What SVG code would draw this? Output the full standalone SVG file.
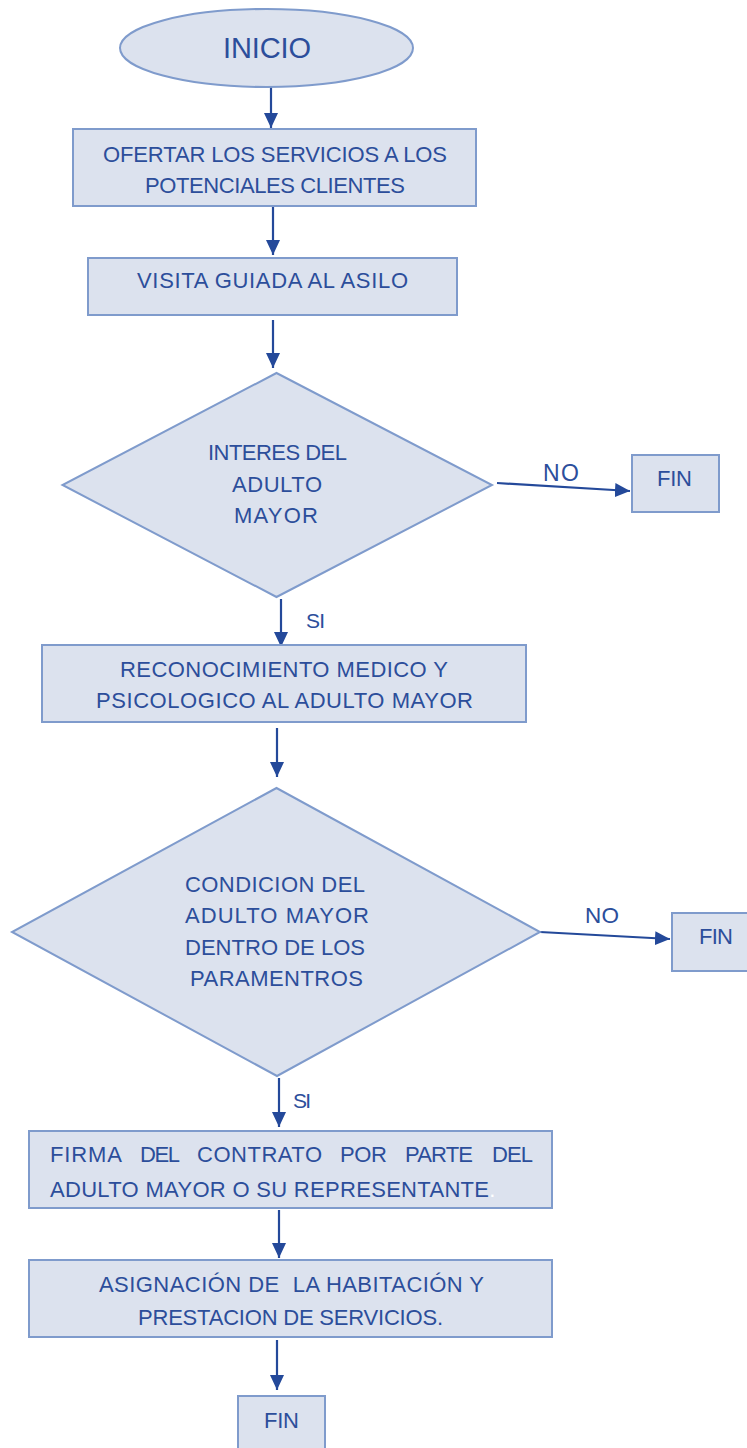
<svg xmlns="http://www.w3.org/2000/svg" width="747" height="1448" viewBox="0 0 747 1448">
<style>
.shape{fill:#dce2ee;stroke:#7f9bcc;stroke-width:2}
.t{font-family:"Liberation Sans",Arial,sans-serif;font-size:22px;fill:#2c4e9b}
.lbl{font-family:"Liberation Sans",Arial,sans-serif;font-size:21px;fill:#2c4e9b}
.conn{stroke:#24499a;stroke-width:2.2;fill:none;marker-end:url(#ah)}
</style>
<defs>
<marker id="ah" markerUnits="userSpaceOnUse" markerWidth="15" markerHeight="14" refX="15" refY="7" orient="auto">
<path d="M0,0 L15,7 L0,14 z" fill="#24499a"/>
</marker>
</defs>
<rect width="747" height="1448" fill="#ffffff"/>
<g id="connectors">
<line class="conn" x1="271" y1="82" x2="271" y2="128"/>
<line class="conn" x1="273" y1="207" x2="273" y2="255"/>
<line class="conn" x1="273" y1="320" x2="273" y2="368"/>
<line class="conn" x1="497" y1="483" x2="630" y2="491"/>
<line class="conn" x1="281" y1="599" x2="281" y2="647"/>
<line class="conn" x1="277" y1="728" x2="277" y2="777"/>
<line class="conn" x1="540" y1="932" x2="670" y2="939"/>
<line class="conn" x1="279" y1="1078" x2="279" y2="1127"/>
<line class="conn" x1="279" y1="1210" x2="279" y2="1258"/>
<line class="conn" x1="277" y1="1340" x2="277" y2="1390"/>
<text class="lbl" style="font-size:23px" x="543" y="481" textLength="36">NO</text>
<text class="lbl" x="306" y="628" textLength="19">SI</text>
<text class="lbl" style="font-size:22.5px" x="585" y="923" textLength="34">NO</text>
<text class="lbl" x="293" y="1108" textLength="18">SI</text>
</g>
<g id="inicio">
<ellipse class="shape" cx="266.5" cy="48" rx="146.5" ry="39"/>
<text class="t" style="font-size:29px" x="223" y="58" textLength="88">INICIO</text>
</g>
<g id="ofertar">
<rect class="shape" x="73" y="129" width="403" height="77"/>
<text class="t" x="103" y="162" textLength="344">OFERTAR LOS SERVICIOS A LOS</text>
<text class="t" x="145" y="193" textLength="260">POTENCIALES CLIENTES</text>
</g>
<g id="visita">
<rect class="shape" x="88" y="258" width="369" height="57"/>
<text class="t" x="137" y="288" textLength="271">VISITA GUIADA AL ASILO</text>
</g>
<g id="interes">
<polygon class="shape" points="276.5,373 492,485 276.5,597 62.5,485"/>
<text class="t" x="208" y="460" textLength="139">INTERES DEL</text>
<text class="t" x="232" y="492" textLength="90">ADULTO</text>
<text class="t" x="234" y="523" textLength="84">MAYOR</text>
</g>
<g id="fin1">
<rect class="shape" x="632" y="455" width="87" height="57"/>
<text class="t" x="657" y="486" textLength="35">FIN</text>
</g>
<g id="reconocimiento">
<rect class="shape" x="42" y="645" width="484" height="77"/>
<text class="t" x="120" y="677" textLength="328">RECONOCIMIENTO MEDICO Y</text>
<text class="t" x="96" y="708" textLength="377">PSICOLOGICO AL ADULTO MAYOR</text>
</g>
<g id="condicion">
<polygon class="shape" points="276.5,788 540,932 277,1076 12,932"/>
<text class="t" x="185" y="892" textLength="180">CONDICION DEL</text>
<text class="t" x="185" y="923" textLength="184">ADULTO MAYOR</text>
<text class="t" x="185" y="955" textLength="180">DENTRO DE LOS</text>
<text class="t" x="190" y="986" textLength="173">PARAMENTROS</text>
</g>
<g id="fin2">
<rect class="shape" x="672" y="913" width="80" height="58"/>
<text class="t" x="699" y="944" textLength="34">FIN</text>
</g>
<g id="firma">
<rect class="shape" x="29" y="1131" width="523" height="77"/>
<text class="t" y="1162"><tspan x="50" textLength="72">FIRMA</tspan><tspan x="140" textLength="40">DEL</tspan><tspan x="197" textLength="125">CONTRATO</tspan><tspan x="340" textLength="47">POR</tspan><tspan x="405" textLength="68">PARTE</tspan><tspan x="492" textLength="41">DEL</tspan></text>
<text class="t" y="1197"><tspan x="50" textLength="439">ADULTO MAYOR O SU REPRESENTANTE</tspan><tspan fill="#ffffff">.</tspan></text>
</g>
<g id="asignacion">
<rect class="shape" x="29" y="1260" width="523" height="77"/>
<text class="t" xml:space="preserve" x="99" y="1292" textLength="385">ASIGNACIÓN DE  LA HABITACIÓN Y</text>
<text class="t" x="138" y="1325" textLength="305">PRESTACION DE SERVICIOS.</text>
</g>
<g id="fin3">
<rect class="shape" x="238" y="1396" width="87" height="60"/>
<text class="t" x="264" y="1428" textLength="35">FIN</text>
</g>
</svg>
